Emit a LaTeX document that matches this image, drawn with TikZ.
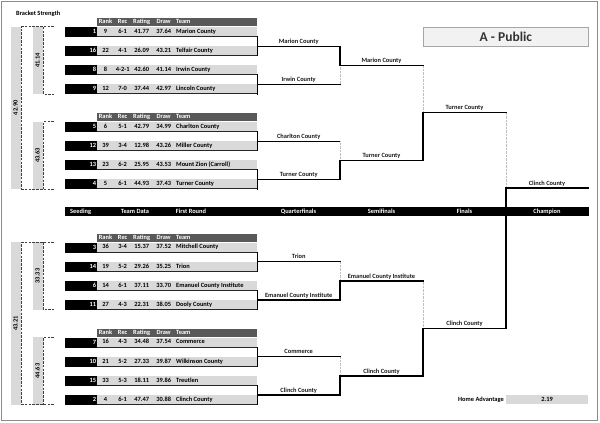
\documentclass[tikz,border=0pt]{standalone}
\usepackage{fontspec}
\setmainfont{Carlito}
\usetikzlibrary{calc}
\definecolor{rowgrey}{HTML}{D9D9D9}
\definecolor{hdrgrey}{HTML}{595959}
\definecolor{titlefill}{HTML}{F2F2F2}
\definecolor{titleline}{HTML}{A6A6A6}
\definecolor{framegrey}{HTML}{8C8C8C}
\begin{document}
\begin{tikzpicture}[x=1pt,y=-1pt,
  every node/.style={font=\fontsize{6.4}{7.5}\selectfont\bfseries},
  cell/.style={inner sep=0pt, text height=4.6pt, text depth=1.3pt},
  seedbox/.style={cell, fill=black, text=white, anchor=north west, minimum height=10pt, text width=30pt, inner xsep=1pt, align=right},
  datarow/.style={fill=rowgrey, anchor=north west, minimum width=160pt, minimum height=9.5pt, inner sep=0pt},
  hdrbar/.style={fill=hdrgrey, anchor=south west, minimum width=160pt, minimum height=8pt, inner sep=0pt},
  rowline/.style={line width=1pt, black!85},
  bline/.style={line width=1.3pt, black, line cap=rect},
  lose/.style={line width=0.5pt, gray!50, dash pattern=on 0.6pt off 0.8pt},
  lbl/.style={cell, above=0.9pt, text=black!90},
  dashline/.style={black!75, line width=0.7pt, dash pattern=on 2.6pt off 1.2pt},
  sbar/.style={fill=rowgrey},
  stext/.style={cell, rotate=90}
]
\useasboundingbox (0,0) rectangle (600,423);
% frame
\draw[framegrey, line width=0.6pt] (1,1) rectangle (597.5,420);
\draw[framegrey, line width=1.6pt] (597.5,1) -- (597.5,420.3) -- (1,420.3);

\node[anchor=west, cell] (bstitle) at (16,14) {Bracket Strength};

% group headers
\foreach \gy [count=\g] in {26.7,121.7,242.3,337.3}{
  \node[hdrbar] (h\g) at (97,{\gy-0.6}) {};
  \node[cell,text=white] (hrk\g) at ([xshift=8.5pt]h\g.west) {Rank};
  \node[cell,text=white] (hrc\g) at ([xshift=25.7pt]h\g.west) {Rec};
  \node[cell,text=white] (hrt\g) at ([xshift=44.7pt]h\g.west) {Rating};
  \node[cell,text=white] (hdr\g) at ([xshift=66.7pt]h\g.west) {Draw};
  \node[cell,text=white,anchor=west] (htm\g) at ([xshift=79pt]h\g.west) {Team};
}

% team rows
\foreach \sd/\rk/\rc/\rt/\dr/\tm/\ty [count=\i] in {
  1/9/6-1/41.77/37.64/Marion County/26.7,
  16/22/4-1/26.09/43.21/Telfair County/45.8,
  8/8/4-2-1/42.60/41.14/Irwin County/64.9,
  9/12/7-0/37.44/42.97/Lincoln County/84.0,
  5/6/5-1/42.79/34.99/Charlton County/121.7,
  12/39/3-4/12.98/43.26/Miller County/140.8,
  13/23/6-2/25.95/43.53/Mount Zion (Carroll)/159.9,
  4/5/6-1/44.93/37.43/Turner County/179.0,
  3/36/3-4/15.37/37.52/Mitchell County/242.3,
  14/19/5-2/29.26/35.25/Trion/261.4,
  6/14/6-1/37.11/33.70/Emanuel County Institute/280.5,
  11/27/4-3/22.31/38.05/Dooly County/299.6,
  7/16/4-3/34.48/37.54/Commerce/337.3,
  10/21/5-2/27.33/39.87/Wilkinson County/356.4,
  15/33/5-3/18.11/39.86/Treutlen/375.5,
  2/4/6-1/47.47/30.88/Clinch County/394.6}{
  \node[seedbox] (sd\i) at (65,\ty) {\sd};
  \node[datarow] (d\i) at (97,\ty) {};
  \draw[rowline] (d\i.south west) -- (d\i.south east);
  \node[cell] (rk\i) at ([xshift=8.5pt]d\i.west) {\rk};
  \node[cell] (rc\i) at ([xshift=25.7pt]d\i.west) {\rc};
  \node[cell] (rt\i) at ([xshift=44.7pt]d\i.west) {\rt};
  \node[cell] (dr\i) at ([xshift=66.7pt]d\i.west) {\dr};
  \node[cell,anchor=west] (tm\i) at ([xshift=79pt]d\i.west) {\tm};
}

% bracket strength bars
\fill[sbar] (11,26.7) rectangle (20.8,189);
\node[stext] (bs1) at (15.9,107.85) {42.90};
\fill[sbar] (33.3,26.7) rectangle (42.7,94);
\node[stext] (bs2) at (38,60.35) {41.14};
\fill[sbar] (33.3,121.7) rectangle (42.7,189);
\node[stext] (bs3) at (38,155.35) {43.63};
\fill[sbar] (11,242.3) rectangle (20.8,404.6);
\node[stext] (bs4) at (15.9,323.45) {43.21};
\fill[sbar] (33.3,242.3) rectangle (42.7,309.6);
\node[stext] (bs5) at (38,275.95) {33.33};
\fill[sbar] (33.3,337.3) rectangle (42.7,404.6);
\node[stext] (bs6) at (38,370.95) {44.63};
\draw[dashline] (54,26.7) -- (21.7,26.7) -- (21.7,189) -- (54,189);
\draw[dashline] (43.4,26.7) -- (43.4,94) -- (54,94);
\draw[dashline] (54,121.7) -- (43.4,121.7) -- (43.4,189);
\draw[dashline] (54,242.3) -- (21.7,242.3) -- (21.7,404.6) -- (54,404.6);
\draw[dashline] (43.4,242.3) -- (43.4,309.6) -- (54,309.6);
\draw[dashline] (54,337.3) -- (43.4,337.3) -- (43.4,404.6);

% black header bar
\node[fill=black, anchor=north west, minimum width=524pt, minimum height=9.3pt, inner sep=0pt] (bar) at (65,206.7) {};
\node[cell,text=white,anchor=west] (tSeed) at (70,211.35) {Seeding};
\node[cell,text=white,anchor=west] (tData) at (120.7,211.35) {Team Data};
\node[cell,text=white,anchor=west] (tFirst) at (175.7,211.35) {First Round};
\node[cell,text=white] (tQF) at (298.5,211.35) {Quarterfinals};
\node[cell,text=white] (tSF) at (381.5,211.35) {Semifinals};
\node[cell,text=white] (tF) at (464.5,211.35) {Finals};
\node[cell,text=white] (tCh) at (547,211.35) {Champion};

% column coordinates
\coordinate (X2) at (340,0);
\coordinate (X3) at (423,0);
\coordinate (X4) at (506,0);
\coordinate (X5) at (588,0);

% first round pairs
\foreach \k in {1,...,8}{
  \pgfmathtruncatemacro{\a}{2*\k-1}
  \pgfmathtruncatemacro{\b}{2*\k}
  \draw[bline] (d\a.south east) -- (d\b.south east);
  \coordinate (q\k) at ($(d\a.south east)!0.5!(d\b.south east)$);
}
% quarterfinals
\foreach \k/\lb in {1/Marion County,2/Irwin County,3/Charlton County,4/Turner County,5/Trion,6/Emanuel County Institute,7/Commerce,8/Clinch County}{
  \draw[bline] (q\k) -- node[lbl] (ql\k) {\lb} (q\k -| X2) coordinate (qe\k);
}
% semifinals
\foreach \m/\w/\l/\lb in {1/1/2/Marion County,2/4/3/Turner County,3/6/5/Emanuel County Institute,4/8/7/Clinch County}{
  \coordinate (sf\m) at ($(qe\w)!0.5!(qe\l)$);
  \draw[lose] (sf\m) -- (qe\l);
  \draw[bline] (qe\w) -- (sf\m) -- node[lbl] (sl\m) {\lb} (sf\m -| X3) coordinate (se\m);
}
% finals
\foreach \n/\w/\l/\lb in {1/2/1/Turner County,2/4/3/Clinch County}{
  \coordinate (fn\n) at ($(se\w)!0.5!(se\l)$);
  \draw[lose] (fn\n) -- (se\l);
  \draw[bline] (se\w) -- (fn\n) -- node[lbl] (fl\n) {\lb} (fn\n -| X4) coordinate (fe\n);
}
% champion
\coordinate (ch) at (506,188);
\draw[lose] (fe1) -- (ch);
\draw[bline] (fe2) -- (ch) -- node[lbl] (cl) {Clinch County} (ch -| X5) coordinate (ce);

% title
\node[draw=titleline, line width=0.8pt, fill=titlefill, anchor=north west, minimum width=165pt, minimum height=19pt, inner sep=0pt, text=black!80, font=\fontsize{13.5}{15}\selectfont\bfseries] (title) at (423,27) {A - Public};

% home advantage
\node[cell,anchor=east] (ha) at (504,399.5) {Home Advantage};
\node[fill=rowgrey, anchor=west, minimum width=82pt, minimum height=9pt, inner sep=0pt] (hab) at (506,399.5) {};
\node[cell] (hav) at (hab.center) {2.19};
\end{tikzpicture}
\end{document}
